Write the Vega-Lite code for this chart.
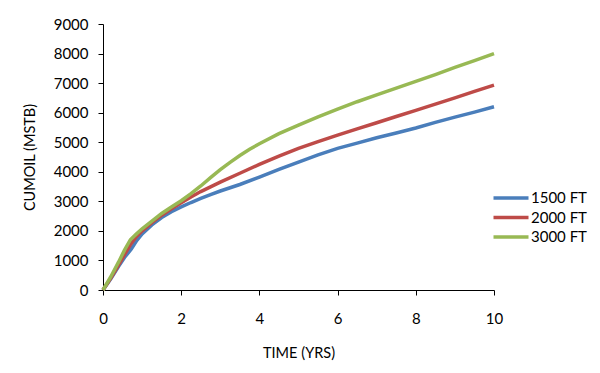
{
  "$schema": "https://vega.github.io/schema/vega-lite/v6.json",
  "width": 391,
  "height": 266,
  "autosize": "none",
  "padding": {"left": 103, "top": 24, "right": 106, "bottom": 83},
  "background": "white",
  "config": {
    "font": "Lato",
    "view": {"stroke": null},
    "axis": {
      "grid": false,
      "labelFlush": false,
      "labelOverlap": false,
      "domainColor": "#000",
      "domainWidth": 1,
      "tickColor": "#000",
      "tickSize": 5,
      "tickWidth": 1,
      "labelFont": "Lato",
      "labelFontSize": 15,
      "labelColor": "#000",
      "titleFont": "Lato",
      "titleFontSize": 14.5,
      "titleFontWeight": "normal",
      "titleColor": "#000"
    },
    "legend": {
      "labelFont": "Lato",
      "labelFontSize": 15,
      "labelColor": "#000"
    }
  },
  "data": {
    "values": [
      {"t": 0, "cum": 0, "series": "1500 FT"},
      {"t": 0.2, "cum": 380, "series": "1500 FT"},
      {"t": 0.4, "cum": 800, "series": "1500 FT"},
      {"t": 0.55, "cum": 1100, "series": "1500 FT"},
      {"t": 0.72, "cum": 1380, "series": "1500 FT"},
      {"t": 0.85, "cum": 1650, "series": "1500 FT"},
      {"t": 1, "cum": 1900, "series": "1500 FT"},
      {"t": 1.25, "cum": 2200, "series": "1500 FT"},
      {"t": 1.5, "cum": 2450, "series": "1500 FT"},
      {"t": 1.75, "cum": 2650, "series": "1500 FT"},
      {"t": 2, "cum": 2810, "series": "1500 FT"},
      {"t": 2.25, "cum": 2960, "series": "1500 FT"},
      {"t": 2.5, "cum": 3100, "series": "1500 FT"},
      {"t": 2.75, "cum": 3230, "series": "1500 FT"},
      {"t": 3, "cum": 3350, "series": "1500 FT"},
      {"t": 3.5, "cum": 3570, "series": "1500 FT"},
      {"t": 4, "cum": 3820, "series": "1500 FT"},
      {"t": 4.5, "cum": 4080, "series": "1500 FT"},
      {"t": 5, "cum": 4330, "series": "1500 FT"},
      {"t": 5.5, "cum": 4570, "series": "1500 FT"},
      {"t": 6, "cum": 4790, "series": "1500 FT"},
      {"t": 6.5, "cum": 4970, "series": "1500 FT"},
      {"t": 7, "cum": 5150, "series": "1500 FT"},
      {"t": 7.5, "cum": 5310, "series": "1500 FT"},
      {"t": 8, "cum": 5480, "series": "1500 FT"},
      {"t": 8.5, "cum": 5670, "series": "1500 FT"},
      {"t": 9, "cum": 5850, "series": "1500 FT"},
      {"t": 9.5, "cum": 6020, "series": "1500 FT"},
      {"t": 10, "cum": 6200, "series": "1500 FT"},

      {"t": 0, "cum": 0, "series": "2000 FT"},
      {"t": 0.2, "cum": 400, "series": "2000 FT"},
      {"t": 0.4, "cum": 850, "series": "2000 FT"},
      {"t": 0.55, "cum": 1200, "series": "2000 FT"},
      {"t": 0.7, "cum": 1530, "series": "2000 FT"},
      {"t": 0.85, "cum": 1800, "series": "2000 FT"},
      {"t": 1, "cum": 2000, "series": "2000 FT"},
      {"t": 1.25, "cum": 2280, "series": "2000 FT"},
      {"t": 1.5, "cum": 2530, "series": "2000 FT"},
      {"t": 1.75, "cum": 2750, "series": "2000 FT"},
      {"t": 2, "cum": 2950, "series": "2000 FT"},
      {"t": 2.25, "cum": 3150, "series": "2000 FT"},
      {"t": 2.5, "cum": 3330, "series": "2000 FT"},
      {"t": 2.75, "cum": 3490, "series": "2000 FT"},
      {"t": 3, "cum": 3650, "series": "2000 FT"},
      {"t": 3.5, "cum": 3950, "series": "2000 FT"},
      {"t": 4, "cum": 4250, "series": "2000 FT"},
      {"t": 4.5, "cum": 4530, "series": "2000 FT"},
      {"t": 5, "cum": 4790, "series": "2000 FT"},
      {"t": 5.5, "cum": 5020, "series": "2000 FT"},
      {"t": 6, "cum": 5240, "series": "2000 FT"},
      {"t": 6.5, "cum": 5450, "series": "2000 FT"},
      {"t": 7, "cum": 5660, "series": "2000 FT"},
      {"t": 7.5, "cum": 5870, "series": "2000 FT"},
      {"t": 8, "cum": 6080, "series": "2000 FT"},
      {"t": 8.5, "cum": 6290, "series": "2000 FT"},
      {"t": 9, "cum": 6500, "series": "2000 FT"},
      {"t": 9.5, "cum": 6720, "series": "2000 FT"},
      {"t": 10, "cum": 6930, "series": "2000 FT"},

      {"t": 0, "cum": 0, "series": "3000 FT"},
      {"t": 0.2, "cum": 450, "series": "3000 FT"},
      {"t": 0.4, "cum": 950, "series": "3000 FT"},
      {"t": 0.55, "cum": 1350, "series": "3000 FT"},
      {"t": 0.7, "cum": 1700, "series": "3000 FT"},
      {"t": 0.85, "cum": 1890, "series": "3000 FT"},
      {"t": 1, "cum": 2070, "series": "3000 FT"},
      {"t": 1.25, "cum": 2330, "series": "3000 FT"},
      {"t": 1.5, "cum": 2590, "series": "3000 FT"},
      {"t": 1.75, "cum": 2810, "series": "3000 FT"},
      {"t": 2, "cum": 3020, "series": "3000 FT"},
      {"t": 2.25, "cum": 3260, "series": "3000 FT"},
      {"t": 2.5, "cum": 3520, "series": "3000 FT"},
      {"t": 2.75, "cum": 3800, "series": "3000 FT"},
      {"t": 3, "cum": 4070, "series": "3000 FT"},
      {"t": 3.25, "cum": 4320, "series": "3000 FT"},
      {"t": 3.5, "cum": 4550, "series": "3000 FT"},
      {"t": 3.75, "cum": 4760, "series": "3000 FT"},
      {"t": 4, "cum": 4950, "series": "3000 FT"},
      {"t": 4.5, "cum": 5290, "series": "3000 FT"},
      {"t": 5, "cum": 5580, "series": "3000 FT"},
      {"t": 5.5, "cum": 5860, "series": "3000 FT"},
      {"t": 6, "cum": 6120, "series": "3000 FT"},
      {"t": 6.5, "cum": 6370, "series": "3000 FT"},
      {"t": 7, "cum": 6600, "series": "3000 FT"},
      {"t": 7.5, "cum": 6830, "series": "3000 FT"},
      {"t": 8, "cum": 7060, "series": "3000 FT"},
      {"t": 8.5, "cum": 7290, "series": "3000 FT"},
      {"t": 9, "cum": 7530, "series": "3000 FT"},
      {"t": 9.5, "cum": 7760, "series": "3000 FT"},
      {"t": 10, "cum": 8000, "series": "3000 FT"}
    ]
  },
  "mark": {"type": "line", "strokeWidth": 3.5},
  "encoding": {
    "x": {
      "field": "t",
      "type": "quantitative",
      "scale": {"domain": [0, 10], "nice": false},
      "axis": {"values": [0, 2, 4, 6, 8, 10], "format": "d", "title": "TIME (YRS)", "labelPadding": 16, "titlePadding": 20}
    },
    "y": {
      "field": "cum",
      "type": "quantitative",
      "scale": {"domain": [0, 9000], "nice": false},
      "axis": {"values": [0, 1000, 2000, 3000, 4000, 5000, 6000, 7000, 8000, 9000], "format": "d", "title": "CUMOIL (MSTB)", "labelPadding": 10, "titlePadding": 16}
    },
    "color": {
      "field": "series",
      "type": "nominal",
      "scale": {"domain": ["1500 FT", "2000 FT", "3000 FT"], "range": ["#4A7EBB", "#BE4B48", "#98B954"]},
      "legend": {
        "title": null,
        "orient": "none",
        "legendX": 400,
        "legendY": 166,
        "symbolType": "M-2.9167,0H2.9167",
        "symbolSize": 144,
        "symbolStrokeWidth": 3.5,
        "labelOffset": 12,
        "rowPadding": 3.5
      }
    }
  }
}
